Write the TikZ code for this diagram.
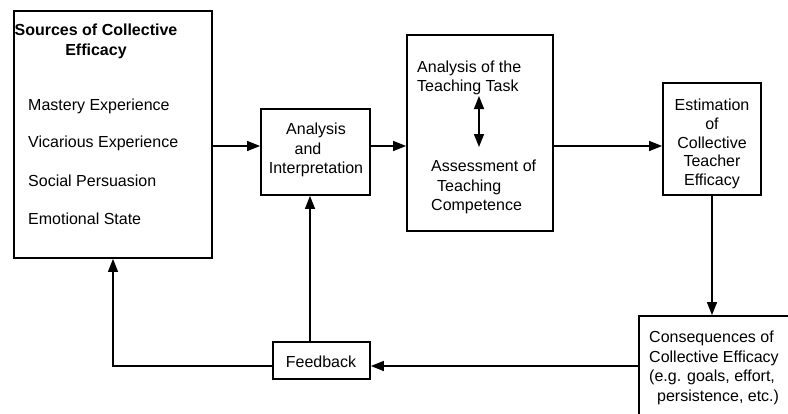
\documentclass[tikz,border=0pt]{standalone}
\usepackage{fontspec}
\setmainfont{Liberation Sans}
\usetikzlibrary{arrows.meta}
\begin{document}
\begin{tikzpicture}[x=1pt,y=-1pt,
  box/.style={draw, line width=1.8pt, inner sep=0pt},
  txt/.style={inner sep=0pt, font=\fontsize{16}{19.5}\selectfont},
  tip/.tip={Triangle[length=13pt,width=10pt]},
  arr/.style={line width=1.5pt, -tip},
  darr/.style={line width=1.5pt, tip-tip}
]
\useasboundingbox (0,0) rectangle (788,413);
% boxes
\node[box,minimum width=198pt,minimum height=247pt] (src) at (113,134.5) {};
\node[box,minimum width=109pt,minimum height=86pt] (ai) at (315.5,152) {};
\node[box,minimum width=146pt,minimum height=196pt] (tt) at (480,133) {};
\node[box,minimum width=98pt,minimum height=112pt] (est) at (712,139) {};
\node[box,minimum width=97pt,minimum height=37pt] (fb) at (321.5,360.5) {};
\node[box,minimum width=170pt,minimum height=110pt] (cons) at (724,371) {};
% texts
\node[txt,font=\fontsize{16}{20}\selectfont\bfseries,align=center] (srctitle) at (96,41) {Sources of Collective\\Efficacy};
\node[txt,anchor=west] (s1) at (28,106) {Mastery Experience};
\node[txt,anchor=west] (s2) at (28,143) {Vicarious Experience};
\node[txt,anchor=west] (s3) at (28,181) {Social Persuasion};
\node[txt,anchor=west] (s4) at (28,219) {Emotional State};
\node[txt,align=center] (aitext) at (316,150) {Analysis\\\hspace*{-16pt}and\\Interpretation};
\node[txt,align=left,anchor=west] (task) at (417,78) {Analysis of the\\Teaching Task};
\node[txt,align=left,anchor=west] (comp) at (431,187) {Assessment of\\\hspace*{6pt}Teaching\\Competence};
\node[txt,font=\fontsize{16}{18.75}\selectfont,align=center] (esttext) at (712,144) {Estimation\\of\\Collective\\Teacher\\Efficacy};
\node[txt] (fbtext) at (321,362) {Feedback};
\node[txt,align=left,anchor=west] (constext) at (649,368) {Consequences of\\Collective Efficacy\\(e.g. goals, effort,\\\hspace*{8pt}persistence, etc.)};
% helper coordinates
\coordinate (r146) at (0,146);
\coordinate (r366) at (0,366);
\coordinate (c310) at (310,0);
\coordinate (dtop) at (479,96);
\coordinate (dbot) at (479,147);
% connectors
\draw[arr] (src.east |- r146) -- (ai.west |- r146);
\draw[arr] (ai.east |- r146) -- (tt.west |- r146);
\draw[arr] (tt.east |- r146) -- (est.west |- r146);
\draw[arr] (est.south) -- (est.south |- cons.north);
\draw[arr] (cons.west |- r366) -- (fb.east |- r366);
\draw[arr] (fb.west |- r366) -| (src.south);
\draw[arr] (fb.north -| c310) -- (ai.south -| c310);
\draw[darr] (dtop) -- (dbot);
\end{tikzpicture}
\end{document}
